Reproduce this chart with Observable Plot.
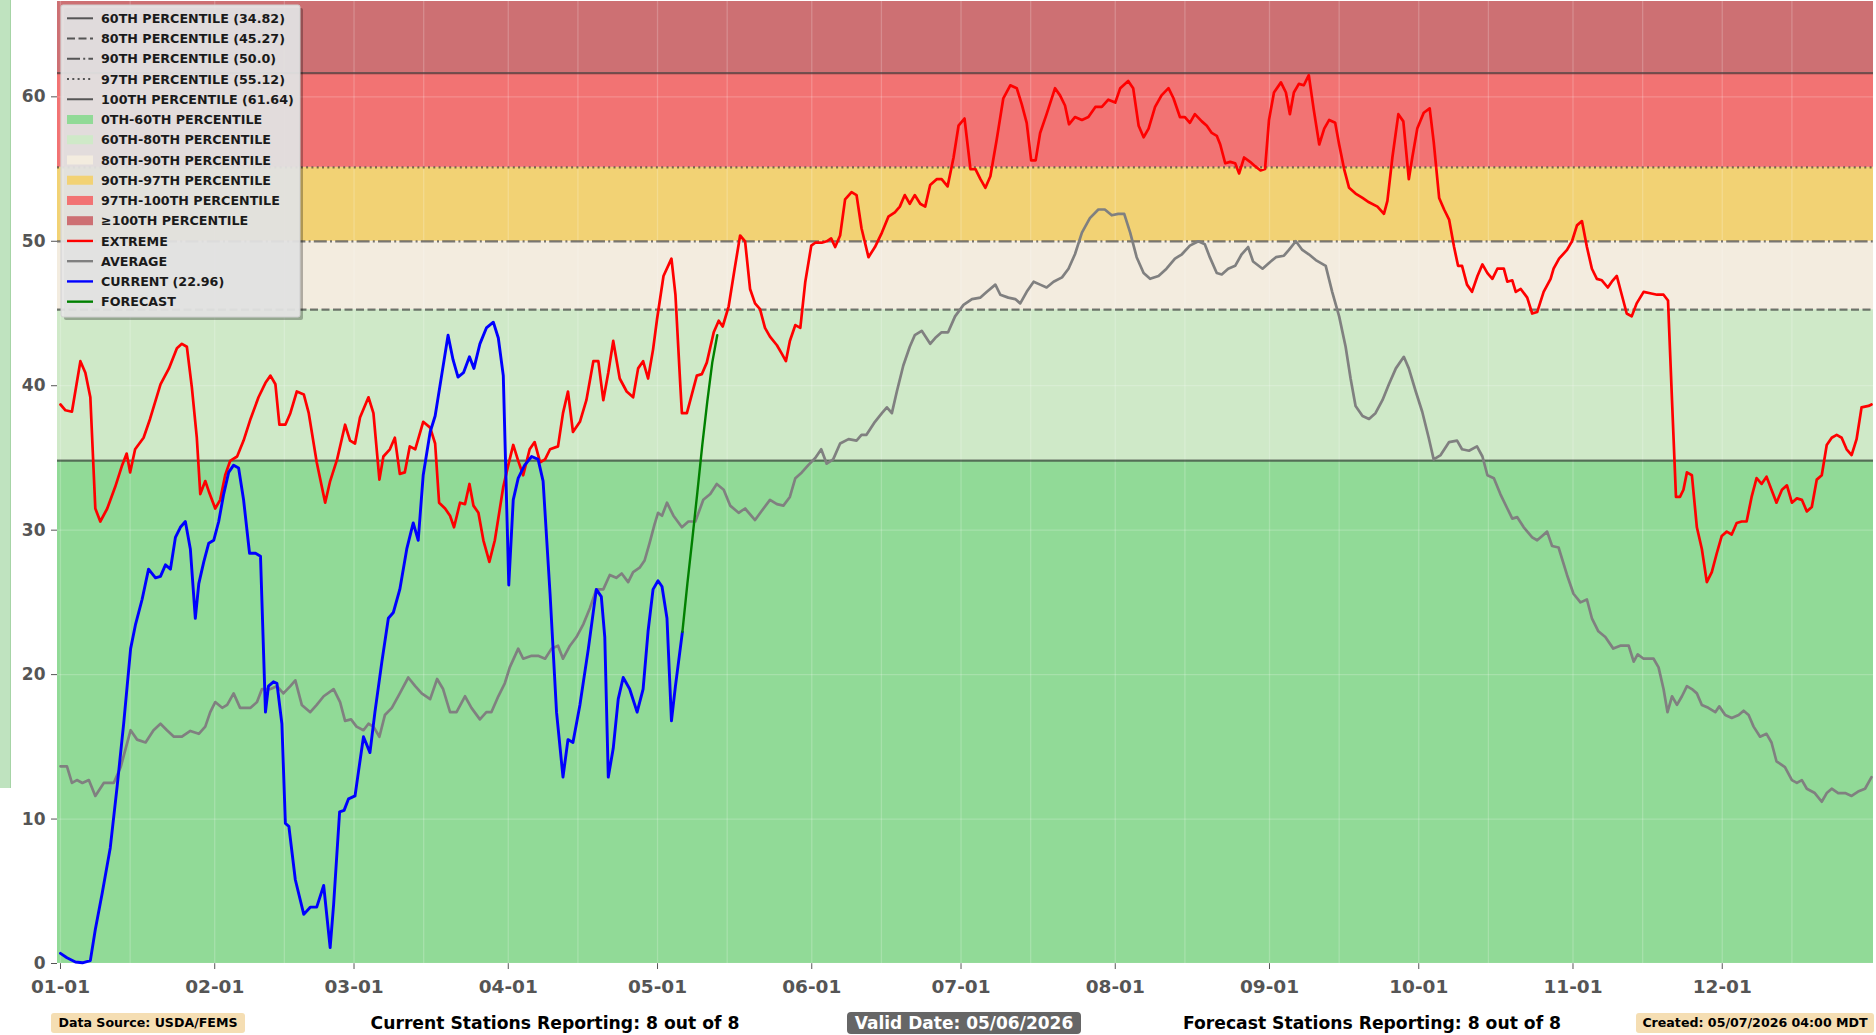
<!DOCTYPE html>
<html>
<head>
<meta charset="utf-8">
<script src="https://cdn.jsdelivr.net/npm/d3@7"></script>
<script src="https://cdn.jsdelivr.net/npm/@observablehq/plot@0.6"></script>
<style>
html, body { margin: 0; padding: 0; background: #ffffff; }
#wrap { position: relative; width: 1876px; height: 1035px; overflow: hidden; font-family: "DejaVu Sans", sans-serif; font-weight: bold; }
#wrap > svg { position: absolute; left: 0; top: 0; }
.strip { position: absolute; left: 0; top: 0; width: 10px; height: 788px; background: #bfe3bf; border-right: 1px solid #a6d4a6; }
.foot { position: absolute; white-space: nowrap; text-align: center; color: #000; }
.wheat { top: 1013px; height: 20px; line-height: 20px; background: #f5deb3; border-radius: 3px; font-size: 12.6px; }
.plain { top: 1012px; height: 22px; line-height: 22px; font-size: 17.2px; }
.valid { top: 1012px; height: 22px; line-height: 22px; background: #666666; color: #ffffff; border-radius: 4px; font-size: 17px; }
</style>
</head>
<body>
<div id="wrap"><div class="strip"></div></div>
<script>
// ---------- DATA ----------
const monthTicks = ["01-01","02-01","03-01","04-01","05-01","06-01","07-01","08-01","09-01","10-01","11-01","12-01"];
const midMonthGrid = ["01-15","02-15","03-15","04-15","05-15","06-15","07-15","08-15","09-15","10-15","11-15","12-15"];
const yTicks = [0, 10, 20, 30, 40, 50, 60];
const yMax = 66.6;

const percentileLabels = ["60TH PERCENTILE (34.82)","80TH PERCENTILE (45.27)","90TH PERCENTILE (50.0)","97TH PERCENTILE (55.12)","100TH PERCENTILE (61.64)"];
const percentileValues = [34.82, 45.27, 50.0, 55.12, 61.64];
const percentileDash = ["none", "8,3.5", "13,3.2,2,3.2", "2,3.3", "none"];

const bandLabels = ["0TH-60TH PERCENTILE","60TH-80TH PERCENTILE","80TH-90TH PERCENTILE","90TH-97TH PERCENTILE","97TH-100TH PERCENTILE","\u2265100TH PERCENTILE"];
const bandColors = ["#91da97","#cfe9c8","#f3ecdf","#f2d274","#f27373","#cd7073"];

const seriesLabels = ["EXTREME","AVERAGE","CURRENT (22.96)","FORECAST"];
const seriesColors = ["#ff0000","#808080","#0000ff","#008000"];

// [day of year offset from Jan 1, value]
const extreme = [[0,38.7],[1,38.3],[2.3,38.2],[4,41.7],[5,40.9],[6,39.2],[7,31.5],[8,30.6],[9.4,31.5],[11,33.0],[12.4,34.5],[13.3,35.3],[14,34.0],[15,35.6],[16.7,36.4],[18,37.7],[20.1,40.1],[21.8,41.2],[23.4,42.6],[24.4,42.9],[25.4,42.7],[26.4,39.9],[27.4,36.4],[28.1,32.5],[29.1,33.4],[29.8,32.7],[31.1,31.5],[32.1,32.1],[33.1,33.8],[34.1,34.8],[35.5,35.1],[36.8,36.2],[38.2,37.7],[39.8,39.2],[41.2,40.2],[42.2,40.7],[43.2,40.1],[44,37.3],[45.2,37.3],[46.2,38.1],[47.5,39.6],[48.9,39.4],[49.9,38.1],[51.5,34.7],[53.2,31.9],[54.2,33.4],[55.6,34.9],[57.2,37.3],[58.2,36.2],[59.2,36.0],[60.2,37.8],[61.9,39.2],[62.9,38.1],[64.1,33.5],[64.9,35.1],[66.2,35.6],[67.2,36.4],[68.2,33.9],[69.2,34.0],[70.2,35.8],[71.3,35.6],[72.9,37.5],[74.3,37.1],[75.3,36.0],[76.1,31.9],[77.3,31.5],[78.3,31.0],[79.1,30.2],[80.3,31.9],[81.3,31.8],[82.2,33.2],[83,31.7],[84,31.2],[85,29.3],[86.2,27.8],[87.3,29.3],[89,33.0],[90,34.5],[91,35.9],[92,34.8],[93,33.8],[94.3,35.6],[95.3,36.1],[96.4,34.7],[97.4,34.9],[98.4,35.6],[100,35.8],[101,38.1],[102,39.6],[103,36.8],[104.4,37.5],[105.7,39.0],[107.1,41.7],[108.1,41.7],[109.1,39.0],[110.1,40.9],[111.1,43.1],[112.4,40.5],[113.8,39.6],[115.1,39.2],[116.1,41.2],[117.1,41.7],[118.1,40.5],[119.1,42.5],[119.9,44.6],[121.2,47.6],[122.8,48.8],[123.6,46.3],[124.6,39.9],[124.9,38.1],[125.9,38.1],[126.9,39.4],[127.9,40.7],[128.9,40.8],[129.9,41.6],[131.3,43.7],[132.3,44.5],[133.1,44.1],[134.3,45.5],[135.5,48.1],[136.6,50.4],[137.6,50.0],[138.6,46.7],[139.6,45.7],[140.6,45.3],[141.6,44.0],[142.6,43.4],[144,42.8],[145,42.2],[145.8,41.7],[146.6,43.1],[147.7,44.2],[148.7,44.0],[149.7,47.2],[150.9,49.7],[151.7,49.9],[153,49.9],[154,50.0],[154.9,50.2],[155.7,49.6],[156.7,50.4],[157.7,52.9],[159,53.4],[160,53.2],[161,50.9],[162.4,48.9],[163.7,49.6],[165.1,50.6],[166.4,51.7],[167.7,52.0],[168.7,52.4],[169.7,53.2],[170.7,52.6],[171.7,53.2],[172.8,52.6],[173.8,52.4],[174.8,53.9],[176.1,54.3],[177.1,54.3],[178.3,53.8],[179.5,55.8],[180.5,58.0],[181.7,58.5],[182.9,55.0],[183.9,55.0],[184.9,54.3],[185.9,53.7],[186.9,54.5],[188.2,57.1],[189.5,59.9],[190.9,60.8],[192.2,60.6],[193.2,59.5],[194.2,58.2],[195.1,55.6],[196,55.6],[196.9,57.5],[198.2,58.8],[199.9,60.6],[200.9,60.1],[201.9,59.4],[202.7,58.1],[203.9,58.6],[205.3,58.4],[206.6,58.6],[208,59.3],[209.3,59.3],[210.6,59.8],[212,59.6],[213,60.6],[214.6,61.1],[215.6,60.6],[216.7,58.0],[217.7,57.2],[218.7,57.8],[220,59.3],[221.3,60.1],[222.7,60.6],[223.7,59.9],[225,58.6],[226,58.6],[227,58.2],[228,58.8],[229.4,58.3],[230.4,58.0],[231.4,57.5],[232.4,57.3],[233.1,56.7],[234.1,55.4],[235.1,55.5],[236.1,55.4],[236.9,54.7],[237.9,55.8],[239.1,55.5],[240.1,55.2],[241.2,54.9],[242.1,55.0],[242.9,58.4],[243.9,60.3],[245.3,61.0],[246.3,60.3],[247.1,58.8],[247.9,60.3],[248.9,60.9],[249.9,60.8],[250.9,61.5],[251.9,59.1],[253,56.7],[254,57.8],[255,58.4],[256.2,58.2],[257,56.7],[258,55.0],[259,53.7],[260.3,53.3],[261.7,53.0],[263,52.7],[264.7,52.4],[266,51.9],[266.7,52.8],[267.7,55.8],[268.9,58.8],[269.9,58.3],[271,54.3],[271.7,55.8],[272.7,57.8],[274,58.9],[275.2,59.2],[276,56.9],[277.1,53.0],[278.1,52.2],[279.1,51.5],[280.1,49.6],[280.9,48.3],[281.7,48.3],[282.7,47.0],[283.7,46.5],[284.8,47.6],[285.8,48.4],[286.8,47.8],[287.8,47.4],[288.8,48.1],[290.1,48.1],[290.8,47.2],[291.8,47.3],[292.5,46.5],[293.5,46.7],[294.8,46.1],[295.8,45.0],[296.8,45.1],[298.1,46.5],[299.5,47.4],[300.1,48.1],[301.2,48.8],[302.8,49.4],[303.8,50.0],[304.8,51.1],[305.8,51.4],[306.8,49.6],[307.8,48.1],[308.8,47.4],[309.8,47.3],[311,46.8],[311.8,47.2],[312.8,47.6],[313.8,46.3],[314.8,45.0],[315.8,44.8],[316.8,45.7],[318.2,46.5],[319.5,46.4],[320.9,46.3],[322.2,46.3],[323.1,45.9],[323.9,39.0],[324.7,32.3],[325.5,32.3],[326.2,32.8],[326.9,34.0],[327.9,33.8],[328.9,30.2],[329.9,28.7],[330.9,26.4],[331.9,27.1],[332.9,28.4],[333.9,29.6],[334.9,29.9],[335.9,29.7],[336.9,30.5],[337.9,30.6],[338.9,30.6],[339.9,32.3],[340.9,33.6],[341.9,33.2],[342.9,33.7],[343.9,32.8],[344.9,31.9],[346,32.8],[347,33.1],[348,31.9],[349,32.2],[350,32.1],[351,31.3],[352,31.6],[353,33.5],[354,33.8],[355,35.9],[356,36.4],[357,36.6],[358,36.4],[359,35.6],[360,35.2],[361,36.3],[362,38.5],[363.4,38.6],[364,38.7]];

const average = [[0,13.65],[1.3,13.65],[2.3,12.5],[3.3,12.7],[4.4,12.5],[5.7,12.7],[7,11.6],[8.7,12.5],[10.7,12.5],[12.1,13.6],[14.1,16.15],[15.4,15.5],[17.1,15.3],[18.7,16.15],[20.1,16.6],[21.4,16.15],[22.8,15.7],[24.4,15.7],[26.1,16.1],[27.8,15.9],[29.1,16.4],[30.1,17.4],[31.1,18.1],[32.5,17.7],[33.5,17.9],[34.8,18.7],[36.1,17.7],[38.2,17.7],[39.5,18.1],[40.5,19.0],[42.2,19.0],[43.5,19.2],[44.8,18.7],[46.2,19.2],[47.2,19.6],[48.5,17.9],[50.2,17.4],[51.5,17.9],[52.9,18.5],[54.9,19.0],[56.2,18.1],[57.2,16.8],[58.4,16.9],[59.5,16.4],[60.9,16.15],[61.9,16.6],[62.9,16.4],[64.1,15.7],[65.2,17.2],[66.6,17.7],[68.2,18.7],[69.9,19.8],[71.3,19.2],[72.6,18.7],[74.3,18.3],[75.7,19.7],[76.9,19.0],[78.3,17.4],[79.6,17.4],[81.3,18.5],[82.6,17.7],[84.3,16.9],[85.6,17.4],[86.6,17.4],[88,18.5],[89.3,19.4],[90.3,20.5],[92,21.8],[93,21.1],[94.7,21.3],[96,21.3],[97.4,21.1],[98.7,21.8],[100,22.0],[101,21.1],[102.4,22.0],[103.7,22.6],[105.1,23.5],[106.4,24.6],[107.7,25.9],[109.1,25.9],[110.4,26.9],[111.7,26.7],[112.8,27.0],[114.1,26.4],[115.1,27.1],[116.4,27.4],[117.4,27.9],[118.4,29.1],[119.4,30.4],[120.1,31.2],[120.9,31.0],[121.9,31.9],[123.2,31.0],[124.9,30.2],[126.2,30.6],[127.6,30.6],[129.2,32.1],[130.6,32.5],[131.9,33.2],[133.3,32.8],[134.6,31.7],[136.3,31.2],[137.6,31.5],[139.6,30.7],[141.3,31.5],[142.6,32.1],[144,31.8],[145.3,31.7],[146.6,32.3],[147.7,33.6],[149,34.0],[150.3,34.5],[151.7,35.0],[152.9,35.6],[154,34.6],[155.3,34.9],[156.7,36.0],[158.4,36.3],[160,36.2],[161,36.6],[162,36.6],[163.7,37.5],[165.1,38.1],[166.1,38.5],[167.1,38.1],[168.1,39.6],[169.4,41.4],[170.7,42.7],[171.7,43.5],[173.1,43.8],[174.8,42.9],[175.8,43.3],[177.1,43.7],[178.4,43.7],[179.8,44.8],[181.5,45.6],[183.2,46.0],[184.9,46.1],[186.2,46.5],[187.9,47.0],[188.9,46.3],[190.5,46.1],[191.9,46.0],[192.9,45.7],[194.2,46.5],[195.6,47.2],[196.9,47.0],[198.2,46.8],[199.6,47.2],[201.3,47.5],[202.6,48.1],[203.9,49.1],[205.3,50.6],[206.9,51.6],[208.6,52.2],[209.9,52.2],[211.3,51.8],[212.6,51.9],[213.8,51.9],[215,50.6],[216.3,48.9],[217.7,47.8],[219,47.4],[220.7,47.6],[222.3,48.1],[224,48.8],[225.4,49.1],[227,49.7],[228.7,50.0],[230,49.8],[231,48.9],[232.4,47.8],[233.4,47.7],[234.7,48.1],[236.1,48.3],[237.4,49.1],[238.7,49.6],[239.7,48.6],[241.6,48.1],[242.9,48.5],[244.3,48.9],[245.9,49.0],[246.9,49.4],[248.3,50.0],[249.6,49.4],[250.9,49.1],[252.3,48.7],[254.3,48.3],[255.6,46.5],[257,44.8],[258.3,42.7],[259.3,40.5],[260.3,38.6],[261.7,37.9],[263,37.7],[264.3,38.1],[265.7,39.0],[267,40.1],[268.4,41.2],[270,42.0],[271,41.2],[272.4,39.6],[273.7,38.2],[275,36.4],[276,34.9],[277.4,35.2],[279.1,36.1],[280.7,36.2],[281.7,35.6],[283.1,35.5],[284.7,35.8],[285.8,35.1],[286.8,33.8],[288.1,33.6],[289.4,32.5],[290.8,31.5],[291.8,30.8],[292.8,30.9],[294.1,30.2],[295.8,29.5],[296.8,29.3],[297.8,29.6],[298.8,29.9],[299.8,28.9],[301.1,28.8],[302.8,26.9],[304.1,25.6],[305.5,25.0],[306.8,25.2],[307.8,23.9],[309.1,23.0],[310.5,22.6],[312.1,21.8],[313.5,22.0],[315.2,22.0],[316.2,20.9],[317,21.4],[318.2,21.1],[320.2,21.1],[321.2,20.5],[322.2,19.0],[323,17.4],[323.9,18.5],[324.9,17.9],[325.9,18.5],[326.9,19.2],[327.9,19.0],[328.9,18.7],[329.9,17.9],[331.2,17.7],[332.6,17.4],[333.4,17.8],[334.6,17.2],[335.9,17.0],[337.3,17.2],[338.3,17.5],[339.3,17.2],[340.3,16.4],[341.6,15.7],[342.9,15.9],[343.9,15.3],[344.9,14.0],[346.6,13.6],[348,12.7],[349,12.5],[350,12.7],[351,12.1],[352.6,11.8],[354,11.2],[355,11.8],[356,12.1],[357.3,11.8],[358.7,11.8],[360,11.6],[361.3,11.9],[362.7,12.1],[364,12.9]];

const current = [[0,0.7],[1.3,0.4],[3,0.1],[4.4,0.05],[6,0.2],[7,2.35],[8.4,4.9],[10,8.0],[11.4,12.3],[12.7,16.6],[14.1,21.8],[15.1,23.5],[16.4,25.2],[17.7,27.3],[19.1,26.7],[20.1,26.8],[21.1,27.6],[22.1,27.3],[23.1,29.5],[24.1,30.2],[25.1,30.6],[26.1,28.7],[27.1,23.9],[27.8,26.3],[28.8,27.8],[29.8,29.1],[30.8,29.3],[31.8,30.6],[32.8,32.5],[33.8,34.0],[34.8,34.5],[35.8,34.3],[36.8,32.1],[38,28.4],[39.2,28.4],[40.2,28.2],[41.2,17.4],[41.8,19.2],[42.8,19.5],[43.5,19.4],[44.5,16.6],[45.2,9.7],[45.9,9.5],[47.2,5.8],[48.9,3.4],[50.2,3.9],[51.5,3.9],[52.9,5.4],[54.2,1.1],[54.9,4.1],[56.1,10.5],[57,10.6],[57.9,11.4],[59.2,11.6],[59.9,13.3],[60.9,15.7],[62.2,14.6],[63.2,17.4],[64.6,20.9],[65.9,23.9],[66.9,24.3],[68.2,25.9],[69.6,28.7],[70.9,30.5],[71.9,29.3],[72.9,33.8],[74.3,36.8],[75.3,37.9],[76.6,40.7],[77.9,43.5],[78.9,41.8],[79.9,40.6],[81,40.9],[82.2,42.0],[83.1,41.2],[84.3,42.9],[85.6,44.0],[87,44.4],[88,43.3],[89,40.7],[90.1,26.2],[91,32.1],[92,33.6],[93.3,34.5],[94.7,35.1],[96,34.9],[97,33.4],[98.4,25.6],[99.7,17.4],[101,12.9],[102,15.5],[103,15.3],[104.4,17.9],[106.1,21.8],[107.7,25.9],[108.7,25.4],[109.4,22.6],[110.1,12.9],[111.1,14.9],[112.1,18.3],[113.1,19.8],[114.4,19.0],[115.9,17.4],[117.1,19.0],[118.1,23.0],[119.1,25.9],[120.1,26.5],[120.9,26.1],[121.9,23.9],[122.8,16.8],[123.6,19.2],[125,22.96]];

const forecast = [[125,22.96],[126,26.3],[127,29.4],[128,32.6],[129,35.9],[130,38.9],[131,41.6],[132,43.5]];

const footerTexts = ["Data Source: USDA/FEMS","Current Stations Reporting: 8 out of 8","Valid Date: 05/06/2026","Forecast Stations Reporting: 8 out of 8","Created: 05/07/2026 04:00 MDT"];

// ---------- BUILD ----------
const YEAR0 = Date.UTC(2026, 0, 1);
const toDate = d => new Date(YEAR0 + d * 864e5);
const mmdd = s => new Date(`2026-${s}T00:00:00Z`);
const asRows = arr => arr.map(([d, v]) => ({date: toDate(d), value: v}));

const bandEdges = [0, ...percentileValues, yMax];
const bands = bandColors.map((c, i) => ({lo: bandEdges[i], hi: bandEdges[i + 1], color: c}));

const pctMarks = percentileValues.map((v, i) =>
  Plot.ruleY([v], {stroke: "#2b2b2b", strokeOpacity: 0.62, strokeWidth: 2.2,
    strokeDasharray: percentileDash[i] === "none" ? undefined : percentileDash[i]}));

const chart = Plot.plot({
  width: 1876, height: 1003,
  marginLeft: 57, marginRight: 3, marginTop: 1, marginBottom: 40,
  style: {fontFamily: "DejaVu Sans", fontWeight: "bold", fontSize: "17px", color: "#555555", background: "transparent", overflow: "visible"},
  x: {type: "utc", domain: [toDate(-0.6), toDate(364.4)], ticks: monthTicks.map(mmdd), tickFormat: d3.utcFormat("%m-%d"), tickSize: 6, tickPadding: 10, label: null},
  y: {domain: [0, yMax], ticks: yTicks, tickSize: 6, tickPadding: 6, label: null},
  marks: [
    Plot.rect(bands, {y1: "lo", y2: "hi", fill: "color"}),
    Plot.ruleX([...monthTicks, ...midMonthGrid].map(mmdd), {stroke: "#ffffff", strokeOpacity: 0.2, strokeWidth: 1.3}),
    Plot.ruleY(yTicks, {stroke: "#ffffff", strokeOpacity: 0.2, strokeWidth: 1.3}),
    ...pctMarks,
    Plot.line(asRows(average), {x: "date", y: "value", stroke: seriesColors[1], strokeWidth: 2.7}),
    Plot.line(asRows(extreme), {x: "date", y: "value", stroke: seriesColors[0], strokeWidth: 2.7}),
    Plot.line(asRows(current), {x: "date", y: "value", stroke: seriesColors[2], strokeWidth: 2.9}),
    Plot.line(asRows(forecast), {x: "date", y: "value", stroke: seriesColors[3], strokeWidth: 2.4})
  ]
});
// slightly larger x-axis labels, like the reference
d3.select(chart).selectAll("[aria-label='x-axis tick label'] text, g[aria-label='x-axis tick label']").attr("font-size", 18.5);
document.getElementById("wrap").appendChild(chart);

// ---------- LEGEND ----------
const lg = d3.select("#wrap").append("svg")
  .attr("width", 1876).attr("height", 1035)
  .style("pointer-events", "none");
lg.append("rect").attr("x", 64).attr("y", 8).attr("width", 239).attr("height", 312).attr("rx", 2)
  .attr("fill", "#000").attr("opacity", 0.28);
lg.append("rect").attr("x", 61).attr("y", 5).attr("width", 239).attr("height", 312).attr("rx", 2)
  .attr("fill", "#e6e6e6").attr("fill-opacity", 0.93).attr("stroke", "#cfcfcf").attr("stroke-width", 1);

const legendRows = [
  ...percentileLabels.map((t, i) => ({type: "line", text: t, color: "#555555", dash: percentileDash[i], width: 2})),
  ...bandLabels.map((t, i) => ({type: "patch", text: t, color: bandColors[i]})),
  ...seriesLabels.map((t, i) => ({type: "line", text: t, color: seriesColors[i], dash: "none", width: 2.4}))
];
legendRows.forEach((r, i) => {
  const cy = 18.3 + i * 20.24;
  if (r.type === "line") {
    const ln = lg.append("line").attr("x1", 67).attr("x2", 93).attr("y1", cy).attr("y2", cy)
      .attr("stroke", r.color).attr("stroke-width", r.width);
    if (r.dash !== "none") ln.attr("stroke-dasharray", r.dash);
  } else {
    lg.append("rect").attr("x", 67).attr("y", cy - 4.5).attr("width", 26).attr("height", 9).attr("fill", r.color);
  }
  lg.append("text").attr("x", 101).attr("y", cy).attr("dy", "0.36em")
    .attr("font-family", "DejaVu Sans").attr("font-weight", "bold").attr("font-size", 12.7)
    .attr("fill", "#1a1a1a").text(r.text);
});

// ---------- FOOTER ----------
const wrap = document.getElementById("wrap");
const footerSpec = [
  {cls: "foot wheat", left: 51, width: 194},
  {cls: "foot plain", left: 355, width: 400},
  {cls: "foot valid", left: 847, width: 234},
  {cls: "foot plain", left: 1172, width: 400},
  {cls: "foot wheat", left: 1636, width: 238}
];
footerTexts.forEach((t, i) => {
  const el = document.createElement("div");
  el.className = footerSpec[i].cls;
  el.style.left = footerSpec[i].left + "px";
  el.style.width = footerSpec[i].width + "px";
  el.textContent = t;
  wrap.appendChild(el);
});
</script>
</body>
</html>
